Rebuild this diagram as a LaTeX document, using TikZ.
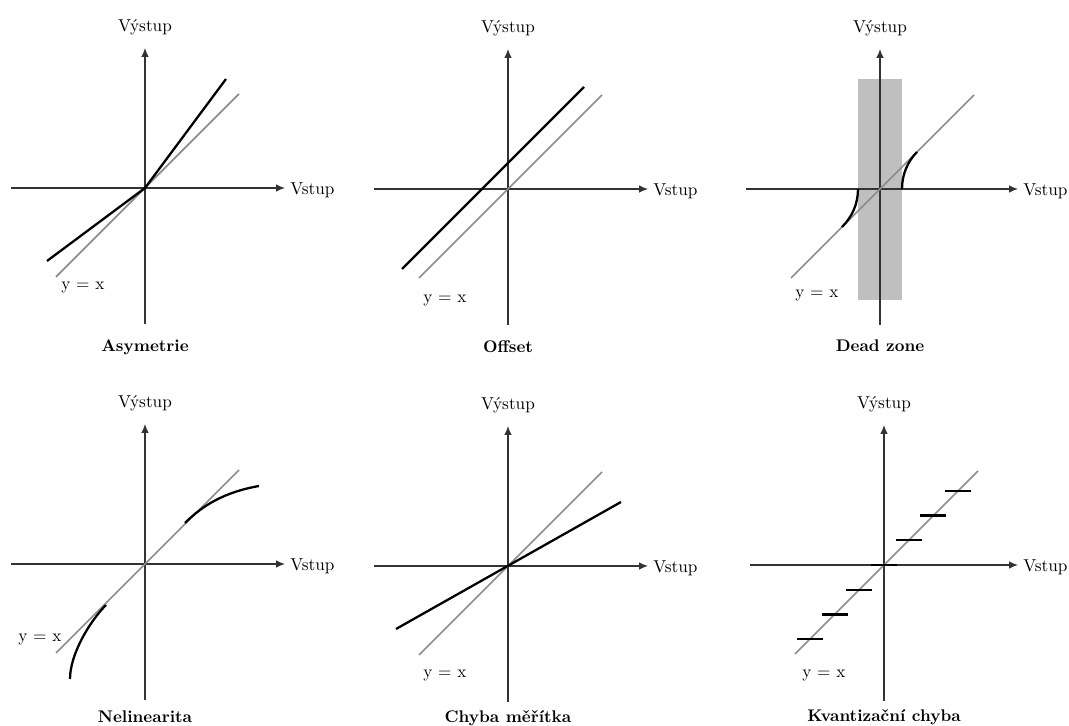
\documentclass[tikz,border=0pt]{standalone}
\usepackage{tikz}
\usetikzlibrary{arrows.meta}

\begin{document}
\begin{tikzpicture}[
  x=0.02cm, y=0.02cm,
  axis/.style={draw=black!80, line width=0.6pt, -{Latex[length=5pt,width=4.2pt]}},
  ideal/.style={draw=black!45, line width=1pt},
  real/.style={draw=black, line width=1.3pt},
  zone/.style={fill=black!25, draw=none},
  lbl/.style={font=\fontsize{9.8}{12}\selectfont, inner sep=0pt},
  heading/.style={font=\fontsize{9.6}{12}\selectfont\bfseries, inner sep=0pt}
]
\useasboundingbox (0,0) rectangle (1069,726);

% dead zone band (under the axes)
\fill[zone] (880-22,537-111) rectangle (880+22,537+110);

% axes, y = x and titles of the six graphs
\foreach \x/\y/\xe/\ty/\name/\title in {
    145/538/140/-164/a/Asymetrie,
    508/537/140/-164/b/Offset,
    880/537/138/-163/c/Dead zone,
    145/162/140/-159/d/Nelinearita,
    508/160/140/-157/e/Chyba měřítka,
    884/161/134/-157/f/Kvantizační chyba} {
  \begin{scope}[shift={(\x,\y)}]
    \draw[axis] (-134,0) -- (\xe,0);
    \draw[axis] (0,-136) -- (0,140);
    \draw[ideal] (-89,-89) -- (94,94);
    \node[lbl, anchor=base] (out-\name) at (0,156) {Výstup};
    \node[lbl, anchor=base west] (in-\name) at (\xe+5,-7) {Vstup};
    \node[heading, anchor=base] (title-\name) at (0,\ty) {\title};
  \end{scope}
}

% Asymetrie
\begin{scope}[shift={(145,538)}]
  \draw[real] (-98,-73) -- (0,0) -- (81,109);
  \node[lbl, anchor=base west] (yx-a) at (-84,-102) {y = x};
\end{scope}

% Offset
\begin{scope}[shift={(508,537)}]
  \draw[real] (-106,-80) -- (76,102);
  \node[lbl, anchor=base west] (yx-b) at (-85,-114) {y = x};
\end{scope}

% Dead zone
\begin{scope}[shift={(880,537)}]
  \draw[real] (22,0) .. controls (22,15) and (28,28) .. (37,37);
  \draw[real] (-22,0) .. controls (-22,-15) and (-28,-28) .. (-38,-38);
  \node[lbl, anchor=base west] (yx-c) at (-85,-109) {y = x};
\end{scope}

% Nelinearita
\begin{scope}[shift={(145,162)}]
  \draw[real] (40,41) .. controls (58,59) and (80,72) .. (114,78);
  \draw[real] (-39,-41) .. controls (-55,-57) and (-75,-90) .. (-75,-115);
  \node[lbl, anchor=base west] (yx-d) at (-127,-78) {y = x};
\end{scope}

% Chyba meritka
\begin{scope}[shift={(508,160)}]
  \draw[real] (-112,-63) -- (113,64);
  \node[lbl, anchor=base west] (yx-e) at (-85,-112) {y = x};
\end{scope}

% Kvantizacni chyba
\begin{scope}[shift={(884,161)}]
  \foreach \k in {-3,...,3}
    \draw[real] (\k*24.7-13,\k*24.7) -- (\k*24.7+13,\k*24.7);
  \node[lbl, anchor=base west] (yx-f) at (-82,-113) {y = x};
\end{scope}
\end{tikzpicture}
\end{document}
